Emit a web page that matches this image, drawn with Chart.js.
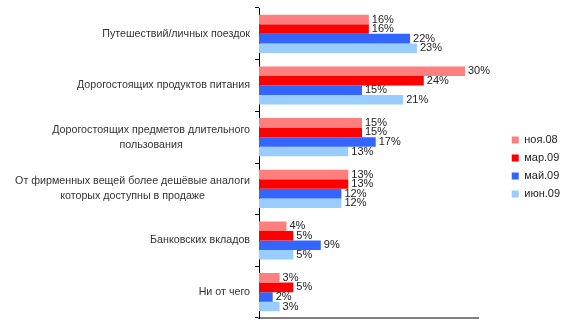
<!DOCTYPE html>
<html>
<head>
<meta charset="utf-8">
<script src="https://cdn.jsdelivr.net/npm/chart.js@4/dist/chart.umd.min.js"></script>
<style>
  html, body { margin: 0; padding: 0; background: #fff; }
  #wrap { width: 570px; height: 336px; position: relative; }
</style>
</head>
<body>
<div id="wrap"><canvas id="c"></canvas></div>
<script>
const cats = [
  ['Путешествий/личных поездок'],
  ['Дорогостоящих продуктов питания'],
  ['Дорогостоящих предметов длительного', 'пользования'],
  ['От фирменных вещей более дешёвые аналоги', 'которых доступны в продаже'],
  ['Банковских вкладов'],
  ['Ни от чего']
];
const periods = ['ноя.08', 'мар.09', 'май.09', 'июн.09'];
const nov08 = [16, 30, 15, 13, 4, 3];
const mar09 = [16, 24, 15, 13, 5, 5];
const may09 = [22, 15, 17, 12, 9, 2];
const jun09 = [23, 21, 13, 12, 5, 3];
const colors = ['#ff7f7f', '#ff0000', '#3366ff', '#99ccff'];

const font = '"Liberation Sans", Arial, sans-serif';

// value labels to the right of each bar
const valueLabels = {
  id: 'valueLabels',
  afterDatasetsDraw(chart) {
    const ctx = chart.ctx;
    ctx.save();
    ctx.font = '11px ' + font;
    ctx.fillStyle = '#222';
    ctx.textAlign = 'left';
    ctx.textBaseline = 'middle';
    chart.data.datasets.forEach((ds, i) => {
      chart.getDatasetMeta(i).data.forEach((bar, j) => {
        ctx.fillText(ds.data[j] + '%', bar.x + 3, bar.y);
      });
    });
    ctx.restore();
  }
};

// category labels: right aligned, second line centred under the first
const catLabels = {
  id: 'catLabels',
  afterDraw(chart) {
    const ctx = chart.ctx;
    const y = chart.scales.y;
    const right = y.right - 9;
    ctx.save();
    ctx.font = '10.7px ' + font;
    ctx.fillStyle = '#333';
    ctx.textBaseline = 'middle';
    cats.forEach((lines, i) => {
      const py = y.getPixelForValue(i);
      if (lines.length === 1) {
        ctx.textAlign = 'right';
        ctx.fillText(lines[0], right, py);
      } else {
        const cx = right - ctx.measureText(lines[0]).width / 2;
        ctx.textAlign = 'center';
        const lh = 15;
        lines.forEach((ln, k) => {
          ctx.fillText(ln, cx, py + (k - (lines.length - 1) / 2) * lh);
        });
      }
    });
    ctx.restore();
  }
};

new Chart(document.getElementById('c'), {
  type: 'bar',
  data: {
    labels: cats.map(l => l.join(' ')),
    datasets: [
      { label: periods[0], data: nov08, backgroundColor: colors[0] },
      { label: periods[1], data: mar09, backgroundColor: colors[1] },
      { label: periods[2], data: may09, backgroundColor: colors[2] },
      { label: periods[3], data: jun09, backgroundColor: colors[3] }
    ]
  },
  options: {
    indexAxis: 'y',
    responsive: true,
    maintainAspectRatio: false,
    animation: false,
    datasets: { bar: { categoryPercentage: 0.74, barPercentage: 1 } },
    layout: { padding: { top: 8, right: 0, bottom: 10, left: 0 } },
    plugins: {
      legend: {
        position: 'right',
        labels: {
          boxWidth: 7, boxHeight: 7, padding: 7,
          color: '#222',
          font: { family: font, size: 11 }
        }
      },
      tooltip: { enabled: false }
    },
    scales: {
      x: {
        min: 0, max: 32,
        ticks: { display: false },
        grid: { display: false },
        border: { color: '#808080', width: 2 }
      },
      y: {
        ticks: { display: false },
        grid: { drawOnChartArea: false, drawTicks: true, tickLength: 4, color: '#000', offset: true },
        border: { color: '#000', width: 1 },
        afterFit(scale) { scale.width = 259; }
      },
      // empty strip between the plot and the legend
      gap: {
        type: 'category',
        position: 'right',
        ticks: { display: false },
        grid: { display: false },
        border: { display: false },
        afterFit(scale) { scale.width = 26; }
      }
    }
  },
  plugins: [valueLabels, catLabels]
});
</script>
</body>
</html>
